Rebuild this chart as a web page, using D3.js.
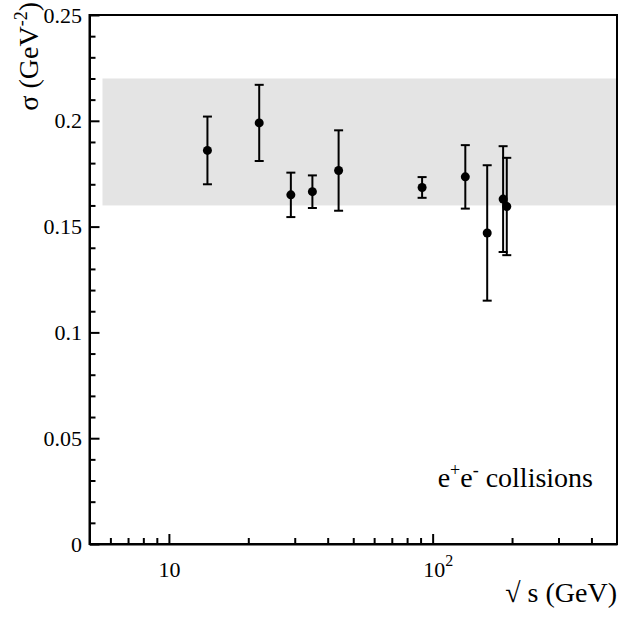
<!DOCTYPE html>
<html>
<head>
<meta charset="utf-8">
<script src="https://cdn.jsdelivr.net/npm/d3@7"></script>
<style>
  body { margin: 0; background: #fff; }
  svg text { font-family: "Liberation Serif", "DejaVu Serif", serif !important; }
</style>
</head>
<body>
<svg id="drawing_region"></svg>
<script>
// data
const energies = [14, 22, 29, 35, 44, 91.2, 133, 161, 185, 191];
const sigma    = [0.186, 0.199, 0.165, 0.1665, 0.1765, 0.1685, 0.1735, 0.147, 0.163, 0.1595];
const errors   = [0.016, 0.018, 0.0105, 0.0077, 0.019, 0.0049, 0.015, 0.032, 0.025, 0.023];

const bandX = [5.6, 500];
const bandY = [0.16, 0.22];

const xMajor = [10, 100];
const xMinor = [6, 7, 8, 9, 20, 30, 40, 50, 60, 70, 80, 90, 200, 300, 400];
const yMajor = [0, 0.05, 0.1, 0.15, 0.2, 0.25];
const yMinor = d3.range(0, 0.25, 0.01).filter(v => Math.round(v * 100) % 5 !== 0);
const yTickLabels = ['0', '0.05', '0.1', '0.15', '0.2', '0.25'];

const width = 623, height = 619;
const margin = {top: 15, right: 6, bottom: 75, left: 89.5};
const serif = '"Liberation Serif", "DejaVu Serif", serif';

const svg = d3.select('#drawing_region')
    .attr('width', width)
    .attr('height', height)
    .attr('font-family', serif);

const xscale = d3.scaleLog()
    .domain([5, 500])
    .range([margin.left, width - margin.right]);

const yscale = d3.scaleLinear()
    .domain([0, 0.25])
    .range([height - margin.bottom, margin.top]);

// grey band
svg.append('rect')
    .attr('x', xscale(bandX[0]))
    .attr('y', yscale(bandY[1]))
    .attr('width', xscale(bandX[1]) - xscale(bandX[0]))
    .attr('height', yscale(bandY[0]) - yscale(bandY[1]))
    .attr('fill', '#e4e4e4');

// frame
svg.append('rect')
    .attr('x', xscale(5))
    .attr('y', yscale(0.25))
    .attr('width', xscale(500) - xscale(5))
    .attr('height', yscale(0) - yscale(0.25))
    .attr('fill', 'none')
    .attr('stroke', 'black')
    .attr('stroke-width', 2);

// x axis
const xaxis_group = svg.append('g')
    .attr('transform', `translate(0, ${yscale(0)})`)
    .call(d3.axisBottom(xscale).tickValues(xMajor).tickSizeInner(-10).tickSizeOuter(0).tickPadding(17).tickFormat(''));

svg.append('g')
    .attr('transform', `translate(0, ${yscale(0)})`)
    .call(d3.axisBottom(xscale).tickValues(xMinor).tickSizeInner(-6).tickSizeOuter(0).tickFormat(''))
    .select('.domain').remove();

xaxis_group.selectAll('.tick text').each(function(d) {
    const t = d3.select(this);
    t.append('tspan').text('10');
    if (d === 100) {
        t.attr('dx', 5);
        t.append('tspan').attr('dy', -11).attr('font-size', 16).text('2');
    }
});

// y axis
const yaxis_group = svg.append('g')
    .attr('transform', `translate(${xscale(5)}, 0)`)
    .call(d3.axisLeft(yscale).tickValues(yMajor).tickSizeInner(-10).tickSizeOuter(0).tickPadding(7.5)
        .tickFormat((d, i) => yTickLabels[i]));

svg.append('g')
    .attr('transform', `translate(${xscale(5)}, 0)`)
    .call(d3.axisLeft(yscale).tickValues(yMinor).tickSizeInner(-6).tickSizeOuter(0).tickFormat(''))
    .select('.domain').remove();

svg.selectAll('g').attr('font-family', serif);
svg.selectAll('.tick line').attr('stroke-width', 2);
svg.selectAll('.domain').attr('stroke-width', 2);
svg.selectAll('.tick text')
    .attr('font-size', 22)
    .attr('fill', 'black');

// error bars
const data = energies.map((e, i) => ({x: e, y: sigma[i], err: errors[i]}));

const bars = svg.append('g')
    .attr('stroke', 'black')
    .attr('stroke-width', 2);

bars.selectAll('.bar')
    .data(data)
    .enter()
    .append('line')
    .attr('x1', d => xscale(d.x))
    .attr('x2', d => xscale(d.x))
    .attr('y1', d => yscale(d.y - d.err))
    .attr('y2', d => yscale(d.y + d.err));

bars.selectAll('.capTop')
    .data(data)
    .enter()
    .append('line')
    .attr('x1', d => xscale(d.x) - 4.5)
    .attr('x2', d => xscale(d.x) + 4.5)
    .attr('y1', d => yscale(d.y + d.err))
    .attr('y2', d => yscale(d.y + d.err));

bars.selectAll('.capBottom')
    .data(data)
    .enter()
    .append('line')
    .attr('x1', d => xscale(d.x) - 4.5)
    .attr('x2', d => xscale(d.x) + 4.5)
    .attr('y1', d => yscale(d.y - d.err))
    .attr('y2', d => yscale(d.y - d.err));

svg.selectAll('circle')
    .data(data)
    .enter()
    .append('circle')
    .attr('cx', d => xscale(d.x))
    .attr('cy', d => yscale(d.y))
    .attr('r', 4.5)
    .style('fill', 'black');

// titles
svg.append('text')
    .attr('x', width - 6)
    .attr('y', 602)
    .attr('text-anchor', 'end')
    .attr('font-size', 28)
    .text('\u221A s (GeV)');

const ytitle = svg.append('text')
    .attr('transform', 'translate(38, 2) rotate(-90)')
    .attr('text-anchor', 'end')
    .attr('font-size', 28);
ytitle.append('tspan').text('\u03C3 (GeV');
ytitle.append('tspan').attr('dy', -11).attr('font-size', 18).text('-2');
ytitle.append('tspan').attr('dy', 11).text(')');

const label = svg.append('text')
    .attr('x', 593)
    .attr('y', 487)
    .attr('text-anchor', 'end')
    .attr('font-size', 28);
label.append('tspan').text('e');
label.append('tspan').attr('dy', -11).attr('font-size', 18).text('+');
label.append('tspan').attr('dy', 11).text('e');
label.append('tspan').attr('dy', -11).attr('font-size', 18).text('-');
label.append('tspan').attr('dy', 11).text(' collisions');
</script>
</body>
</html>
